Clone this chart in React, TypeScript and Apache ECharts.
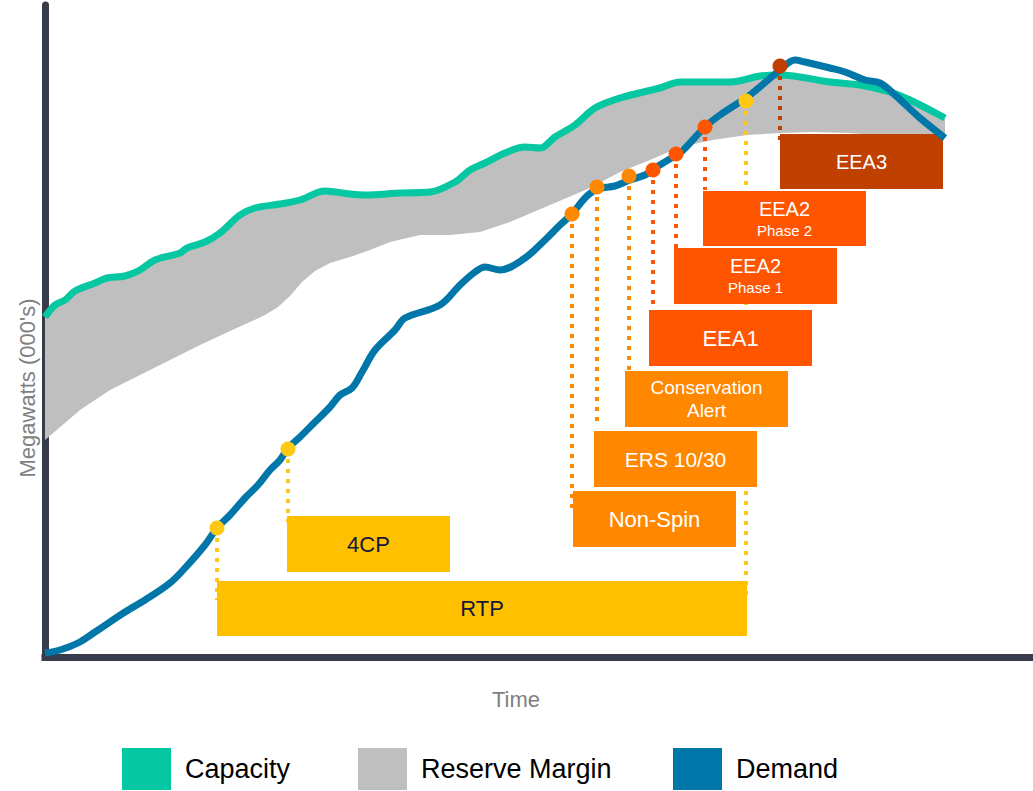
import React, { useEffect, useRef } from 'react';
import * as echarts from 'echarts';

// ---- Data (time units vs. megawatts, thousands) ----
const capacityTime = [0, 1.0, 2.0, 3.0, 5.0, 6.2, 8.0, 9.5, 11.0, 13.5, 14.2, 16.0, 17.5, 19.5, 21.0, 23.5, 25.5, 28.0, 30.5, 32.0, 35.5, 38.5, 41.0, 42.5, 44.0, 46.0, 48.0, 49.5, 51.0, 53.0, 55.0, 57.5, 61.5, 63.5, 68.5, 71.5, 73.5, 78.5, 81.5, 84.5, 86.5, 90.0];
const capacity = [34.0, 35.2, 35.7, 36.6, 37.4, 37.9, 38.1, 38.7, 39.7, 40.4, 40.9, 41.5, 42.4, 44.2, 44.9, 45.3, 45.7, 46.6, 46.3, 46.2, 46.4, 46.5, 47.5, 48.7, 49.4, 50.4, 51.0, 50.9, 52.0, 53.2, 54.9, 55.9, 56.9, 57.5, 57.5, 58.1, 58.2, 57.5, 57.2, 56.5, 55.7, 53.9];

const demandTime = [0, 1.5, 3.3, 5.0, 8.0, 10.0, 12.5, 14.0, 16.0, 17.2, 18.5, 20.0, 21.3, 22.5, 23.5, 24.3, 25.5, 27.0, 28.5, 29.5, 30.7, 31.7, 33.0, 35.0, 36.0, 39.5, 41.5, 43.0, 44.0, 45.5, 48.0, 50.0, 51.5, 52.7, 54.0, 55.2, 57.0, 58.5, 60.0, 61.0, 62.3, 63.5, 66.0, 67.5, 70.5, 73.5, 75.0, 76.0, 78.5, 80.0, 82.0, 83.5, 85.0, 87.5, 90.0];
const demand = [0.4, 0.7, 1.4, 2.5, 4.5, 5.7, 7.4, 8.9, 11.2, 12.9, 14.2, 15.9, 17.2, 18.7, 19.7, 20.9, 22.0, 23.5, 25.0, 26.2, 26.9, 28.5, 30.7, 32.7, 33.9, 35.2, 37.2, 38.5, 39.0, 38.7, 39.9, 41.7, 43.2, 44.3, 45.9, 46.8, 47.1, 47.7, 48.2, 48.9, 49.7, 50.4, 53.0, 54.2, 56.2, 58.7, 59.7, 59.5, 58.9, 58.5, 57.7, 57.4, 56.2, 53.9, 51.9];

const reserveFloorTime = [0, 3.5, 6.5, 10.5, 15.5, 18.5, 20.5, 22.0, 23.3, 24.5, 25.7, 27.0, 28.5, 30.5, 32.5, 34.5, 37.5, 40.5, 43.5, 46.5, 50.5, 54.5, 57.5, 60.5, 63.5, 66.8, 70.2, 73.5, 76.8, 80.2, 83.5, 86.8, 90.0];
const reserveFloor = [21.7, 24.7, 26.7, 28.7, 31.2, 32.6, 33.5, 34.2, 35.0, 36.1, 37.5, 38.6, 39.4, 40.0, 40.7, 41.5, 42.2, 42.2, 42.5, 43.5, 45.2, 46.9, 48.5, 49.7, 51.0, 51.7, 52.2, 52.4, 52.5, 52.4, 52.2, 52.0, 51.9];

// trigger events on the demand curve
const eventNames = ['RTP start', '4CP', 'Non-Spin', 'ERS 10/30', 'Conservation Alert', 'EEA1', 'EEA2 Phase 1', 'EEA2 Phase 2', 'RTP end', 'EEA3'];
const eventTime = [17.2, 24.3, 52.7, 55.2, 58.4, 60.8, 63.1, 66.0, 70.1, 73.5];
const eventLevel = [12.9, 20.8, 44.3, 47.0, 48.1, 48.7, 50.3, 53.0, 55.6, 59.1];
const eventDropTo = [5.7, 13.5, 14.4, 23.2, 28.7, 35.0, 40.7, 46.7, 5.7, 51.7];
const eventTier = [0, 0, 1, 1, 1, 2, 2, 2, 0, 3];

// response stages (boxes)
const stageLabels = ['RTP', '4CP', 'Non-Spin', 'ERS 10/30', 'Conservation\nAlert', 'EEA1', '{a|EEA2}\n{b|Phase 1}', '{a|EEA2}\n{b|Phase 2}', 'EEA3'];
const stageStart = [17.2, 24.2, 52.8, 54.9, 58.0, 60.4, 62.9, 65.8, 73.5];
const stageEnd = [70.2, 40.5, 69.1, 71.2, 74.3, 76.7, 79.2, 82.1, 89.8];
const stageTop = [7.6, 14.1, 16.6, 22.6, 28.6, 34.7, 40.9, 46.6, 52.3];
const stageBottom = [2.1, 8.5, 11.0, 17.0, 23.0, 29.1, 35.3, 41.1, 46.8];
const stageTier = [0, 0, 1, 1, 1, 2, 2, 2, 3];

// legend entries
const legendNames = ['Capacity', 'Reserve Margin', 'Demand'];

// ---- Styles ----
const FONT = '"Liberation Sans", Arial, Helvetica, sans-serif';
const TEAL = '#05C7A1';
const BLUE = '#0077A8';
const GRAY = '#BFBFBF';
const AXIS = '#383C4A';
const boxColors = ['#FFC000', '#FF8800', '#FF5500', '#BF4000'];
const dotColors = ['#FFC814', '#FF8800', '#FF5500', '#BF4000'];
const textColors = ['#15173D', '#FFFFFF', '#FFFFFF', '#FFFFFF'];
const stageFontSize = [22, 22, 22, 21, 19, 22, 20, 20, 20];
const legendLeft = [122, 358, 673];

export default function App() {
  const ref = useRef<HTMLDivElement>(null);

  useEffect(() => {
    if (!ref.current) return;
    const chart = echarts.init(ref.current, undefined, { renderer: 'svg' });

    const option: any = {
      animation: false,
      textStyle: { fontFamily: FONT },
      grid: { left: 45, right: 0, top: 5, bottom: 134 },
      xAxis: {
        type: 'value',
        min: 0,
        max: 98.8,
        axisLine: { show: true, lineStyle: { color: AXIS, width: 7, cap: 'square' } },
        axisTick: { show: false },
        axisLabel: { show: false },
        splitLine: { show: false },
      },
      yAxis: {
        type: 'value',
        min: 0,
        max: 65.2,
        axisLine: { show: true, lineStyle: { color: AXIS, width: 7 } },
        axisTick: { show: false },
        axisLabel: { show: false },
        splitLine: { show: false },
      },
      legend: legendNames.map((name, i) => ({
        data: [name],
        left: legendLeft[i],
        top: 748,
        padding: 0,
        icon: 'rect',
        itemWidth: 49,
        itemHeight: 42,
        selectedMode: false,
        textStyle: { fontSize: 27, color: '#000', fontFamily: FONT, padding: [12, 0, 0, 9] },
      })),
      graphic: [
        {
          type: 'text',
          x: 27,
          y: 388,
          rotation: Math.PI / 2,
          style: { text: "Megawatts (000's)", fontSize: 22, fontFamily: FONT, fill: '#7F7F7F', align: 'center', verticalAlign: 'middle' },
        },
        {
          type: 'text',
          x: 516,
          y: 699,
          style: { text: 'Time', fontSize: 22, fontFamily: FONT, fill: '#7F7F7F', align: 'center', verticalAlign: 'middle' },
        },
      ],
      series: [
        {
          name: 'Reserve Margin',
          type: 'custom',
          color: GRAY,
          z: 1,
          silent: true,
          data: [[0, 0]],
          renderItem: (_p: any, api: any) => {
            const pts: number[][] = [];
            capacityTime.forEach((t, i) => pts.push(api.coord([t, capacity[i]])));
            for (let i = reserveFloorTime.length - 1; i >= 0; i--) {
              pts.push(api.coord([reserveFloorTime[i], reserveFloor[i]]));
            }
            return { type: 'polygon', shape: { points: pts }, style: { fill: GRAY } };
          },
        },
        {
          name: 'Capacity',
          type: 'line',
          color: TEAL,
          z: 2,
          smooth: 0.35,
          showSymbol: false,
          silent: true,
          lineStyle: { color: TEAL, width: 7 },
          data: capacityTime.map((t, i) => [t, capacity[i]]),
        },
        {
          name: 'Triggers',
          type: 'custom',
          z: 3,
          silent: true,
          data: eventNames.map((_n, i) => [eventTime[i], eventLevel[i], eventDropTo[i], eventTier[i]]),
          renderItem: (_p: any, api: any) => {
            const a = api.coord([api.value(0), api.value(1)]);
            const b = api.coord([api.value(0), api.value(2)]);
            return {
              type: 'line',
              shape: { x1: a[0], y1: a[1], x2: b[0], y2: b[1] },
              style: { stroke: dotColors[api.value(3)], lineWidth: 4, lineDash: [4, 6] },
            };
          },
        },
        {
          name: 'Stages',
          type: 'custom',
          z: 4,
          silent: true,
          data: stageLabels.map((_l, i) => [stageStart[i], stageTop[i], stageEnd[i], stageBottom[i], i]),
          renderItem: (_p: any, api: any) => {
            const i = api.value(4) as number;
            const p0 = api.coord([api.value(0), api.value(1)]);
            const p1 = api.coord([api.value(2), api.value(3)]);
            const tier = stageTier[i];
            const fs = stageFontSize[i];
            return {
              type: 'rect',
              shape: { x: p0[0], y: p0[1], width: p1[0] - p0[0], height: p1[1] - p0[1] },
              style: { fill: boxColors[tier] },
              textContent: {
                style: {
                  text: stageLabels[i],
                  fill: textColors[tier],
                  fontSize: fs,
                  fontFamily: FONT,
                  lineHeight: fs + 4,
                  align: 'center',
                  verticalAlign: 'middle',
                  rich: {
                    a: { fontSize: 20, fontFamily: FONT, fill: textColors[tier], lineHeight: 23 },
                    b: { fontSize: 15, fontFamily: FONT, fill: textColors[tier], lineHeight: 20 },
                  },
                },
              },
              textConfig: { position: 'inside' },
            };
          },
        },
        {
          name: 'Demand',
          type: 'line',
          color: BLUE,
          z: 5,
          smooth: 0.35,
          showSymbol: false,
          silent: true,
          lineStyle: { color: BLUE, width: 7 },
          data: demandTime.map((t, i) => [t, demand[i]]),
        },
        {
          name: 'Trigger Points',
          type: 'scatter',
          z: 6,
          silent: true,
          symbolSize: 15,
          itemStyle: { color: (p: any) => dotColors[eventTier[p.dataIndex]], opacity: 1 },
          data: eventNames.map((_n, i) => [eventTime[i], eventLevel[i]]),
        },
      ],
    };

    chart.setOption(option);
    return () => chart.dispose();
  }, []);

  return <div ref={ref} style={{ position: 'absolute', left: 0, top: 0, width: 1033, height: 791 }} />;
}
